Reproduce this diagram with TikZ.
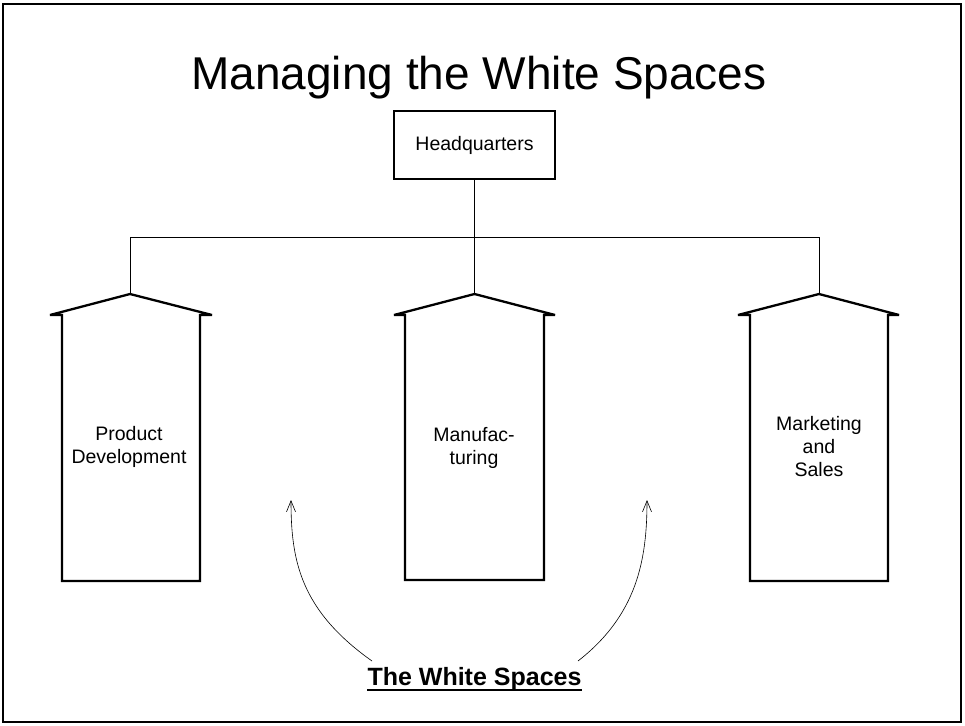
\documentclass[tikz,border=0pt]{standalone}
\usepackage{fontspec}
\setmainfont{Liberation Sans}
\usetikzlibrary{arrows.meta}
\begin{document}
\begin{tikzpicture}[x=1pt,y=-1pt,
  frame/.style={line width=2pt},
  house/.style={line width=2.3pt, line join=miter, miter limit=4},
  link/.style={line width=1pt},
  label/.style={align=center, font=\fontsize{19.5}{23}\selectfont, inner sep=0pt},
  hq/.style={draw, line width=2.3pt, minimum width=161pt, minimum height=68pt, font=\fontsize{19.5}{23}\selectfont},
  pointer/.style={line width=0.6pt, -{Straight Barb[length=11pt,width=9pt]}}
]
\useasboundingbox (0,0) rectangle (965,725);
\draw[frame] (3,4) rectangle (961,722);
\node[anchor=base, inner sep=0pt, font=\fontsize{46}{50}\selectfont] (title) at (479,89) {Managing the White Spaces};
\node[hq] (hq) at (474.5,145) {Headquarters};
\coordinate (bus) at (474.5,237);
\coordinate (busL) at (130,237);
\coordinate (busR) at (819,237);
\coordinate (apL) at (130,294);
\coordinate (apM) at (474.5,294);
\coordinate (apR) at (819,294);
\draw[link] (hq.south) -- (bus);
\draw[link] (busL) -- (busR);
\draw[link] (busL) -- (apL);
\draw[link] (bus) -- (apM);
\draw[link] (busR) -- (apR);
\draw[house] (62,581) -- (62,315) -- (50,315) -- (apL) -- (212,315) -- (200,315) -- (200,581) -- cycle;
\draw[house] (405,580) -- (405,315) -- (394,315) -- (apM) -- (555,315) -- (544,315) -- (544,580) -- cycle;
\draw[house] (750,581) -- (750,315) -- (738,315) -- (apR) -- (899,315) -- (888,315) -- (888,581) -- cycle;
\node[label] (pd) at (129,447) {Product\\Development};
\node[label] (mf) at (474,448) {Manufac-\\turing};
\node[label] (ms) at (819,447) {Marketing\\and\\Sales};
\node[anchor=base, inner sep=0pt, font=\fontsize{25}{29}\selectfont\bfseries] (ws) at (474.5,685) {The White Spaces};
\draw[line width=1.5pt] ([yshift=-5pt]ws.base west) -- ([yshift=-5pt]ws.base east);
\coordinate (sL) at (372,661);
\coordinate (tL) at (291,500);
\coordinate (sR) at (578,661);
\coordinate (tR) at (647,500);
\draw[pointer] (sL) .. controls (300,610) and (291,560) .. (tL);
\draw[pointer] (sR) .. controls (637,615) and (647,560) .. (tR);
\end{tikzpicture}
\end{document}
